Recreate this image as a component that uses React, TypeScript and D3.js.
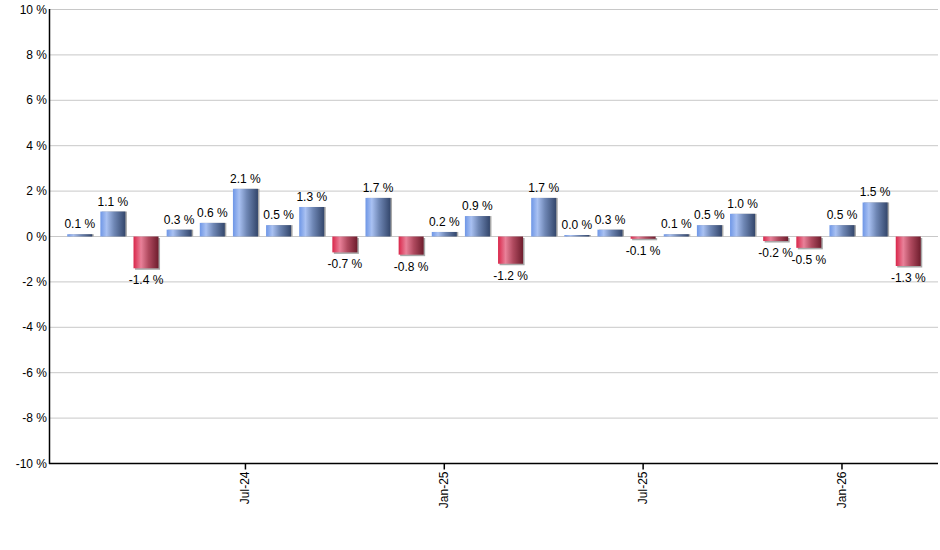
import React, { useEffect, useRef } from "react";
import * as d3 from "d3";

// monthly change, Feb-24 .. Mar-26
const months = [
  "Feb-24", "Mar-24", "Apr-24", "May-24", "Jun-24", "Jul-24", "Aug-24", "Sep-24", "Oct-24",
  "Nov-24", "Dec-24", "Jan-25", "Feb-25", "Mar-25", "Apr-25", "May-25", "Jun-25", "Jul-25",
  "Aug-25", "Sep-25", "Oct-25", "Nov-25", "Dec-25", "Jan-26", "Feb-26", "Mar-26",
];
const values = [
  0.1, 1.1, -1.4, 0.3, 0.6, 2.1, 0.5, 1.3, -0.7, 1.7, -0.8, 0.2, 0.9, -1.2, 1.7, 0.0, 0.3,
  -0.1, 0.1, 0.5, 1.0, -0.2, -0.5, 0.5, 1.5, -1.3,
];
const xTickLabels = ["Jul-24", "Jan-25", "Jul-25", "Jan-26"];
const yTicks = [-10, -8, -6, -4, -2, 0, 2, 4, 6, 8, 10];

const App = () => {
  const svgRef = useRef<SVGSVGElement | null>(null);

  useEffect(() => {
    const w = 940;
    const h = 550;
    const svg = d3.select(svgRef.current).attr("width", w).attr("height", h);
    svg.selectAll("*").remove();

    const font = "'Liberation Sans', Arial, sans-serif";

    // gradients for the bars
    const defs = svg.append("defs");
    const blue = defs.append("linearGradient").attr("id", "gBlue");
    [["0%", "#6e96e6"], ["25%", "#a9c1f2"], ["55%", "#6f87b5"], ["100%", "#33466b"]].forEach(([o, c]) =>
      blue.append("stop").attr("offset", o).attr("stop-color", c)
    );
    const red = defs.append("linearGradient").attr("id", "gRed");
    [["0%", "#d9264a"], ["30%", "#e98199"], ["60%", "#b04a5f"], ["100%", "#6e1d2d"]].forEach(([o, c]) =>
      red.append("stop").attr("offset", o).attr("stop-color", c)
    );

    const x = d3
      .scaleBand<string>()
      .domain(months)
      .range([50, 938])
      .paddingInner(0.245)
      .paddingOuter(0.52);
    const y = d3.scaleLinear().domain([-10, 10]).range([463.5, 9.5]);

    // grid
    svg
      .append("g")
      .selectAll("line")
      .data(yTicks)
      .join("line")
      .attr("x1", 50)
      .attr("x2", 938)
      .attr("y1", (d) => y(d))
      .attr("y2", (d) => y(d))
      .attr("stroke", "#c8c8c8")
      .attr("stroke-width", 1);

    // y labels
    svg
      .append("g")
      .selectAll("text")
      .data(yTicks)
      .join("text")
      .attr("x", 47)
      .attr("y", (d) => y(d) + 4)
      .attr("text-anchor", "end")
      .attr("font-family", font)
      .attr("font-size", 12)
      .attr("fill", "#000")
      .text((d) => `${d} %`);

    // bars
    const bars = months.map((m, i) => ({ m, v: values[i] }));
    const barTop = (v: number) => (v >= 0 ? Math.min(y(v), y(0) - 1.5) : y(0));
    const barH = (v: number) => Math.max(Math.abs(y(v) - y(0)), 1.5);

    const g = svg.append("g");
    g.selectAll("rect.shadow")
      .data(bars)
      .join("rect")
      .attr("class", "shadow")
      .attr("x", (d) => (x(d.m) as number) + 1.5)
      .attr("y", (d) => barTop(d.v) + (d.v >= 0 ? 0 : 1.5))
      .attr("width", x.bandwidth())
      .attr("height", (d) => barH(d.v) + (d.v >= 0 ? 0 : 0))
      .attr("fill", "#a8a8a8");
    g.selectAll("rect.bar")
      .data(bars)
      .join("rect")
      .attr("class", "bar")
      .attr("x", (d) => x(d.m) as number)
      .attr("y", (d) => barTop(d.v))
      .attr("width", x.bandwidth())
      .attr("height", (d) => barH(d.v))
      .attr("fill", (d) => (d.v >= 0 ? "url(#gBlue)" : "url(#gRed)"));

    // value labels
    g.selectAll("text")
      .data(bars)
      .join("text")
      .attr("x", (d) => (x(d.m) as number) + x.bandwidth() / 2)
      .attr("y", (d) => (d.v >= 0 ? barTop(d.v) - 6 : y(d.v) + 16))
      .attr("text-anchor", "middle")
      .attr("font-family", font)
      .attr("font-size", 12)
      .attr("fill", "#000")
      .text((d) => `${d.v.toFixed(1)} %`);

    // axes lines
    svg
      .append("line")
      .attr("x1", 49.5)
      .attr("x2", 49.5)
      .attr("y1", 9)
      .attr("y2", 464)
      .attr("stroke", "#000")
      .attr("stroke-width", 1.5);
    svg
      .append("line")
      .attr("x1", 49)
      .attr("x2", 938)
      .attr("y1", 463.5)
      .attr("y2", 463.5)
      .attr("stroke", "#000")
      .attr("stroke-width", 1.5);

    // x ticks
    const xt = svg
      .append("g")
      .selectAll("g")
      .data(xTickLabels)
      .join("g")
      .attr("transform", (d) => `translate(${(x(d) as number) + x.bandwidth() / 2},463.5)`);
    xt.append("line").attr("y1", 0).attr("y2", 6).attr("stroke", "#000").attr("stroke-width", 1.5);
    xt.append("text")
      .attr("transform", "rotate(-90)")
      .attr("x", -8)
      .attr("y", 4)
      .attr("text-anchor", "end")
      .attr("font-family", font)
      .attr("font-size", 12)
      .attr("fill", "#000")
      .text((d) => d);
  }, []);

  return (
    <div style={{ position: "absolute", left: 0, top: 0, width: 940, height: 550, background: "#fff" }}>
      <svg ref={svgRef}></svg>
    </div>
  );
};

export default App;
